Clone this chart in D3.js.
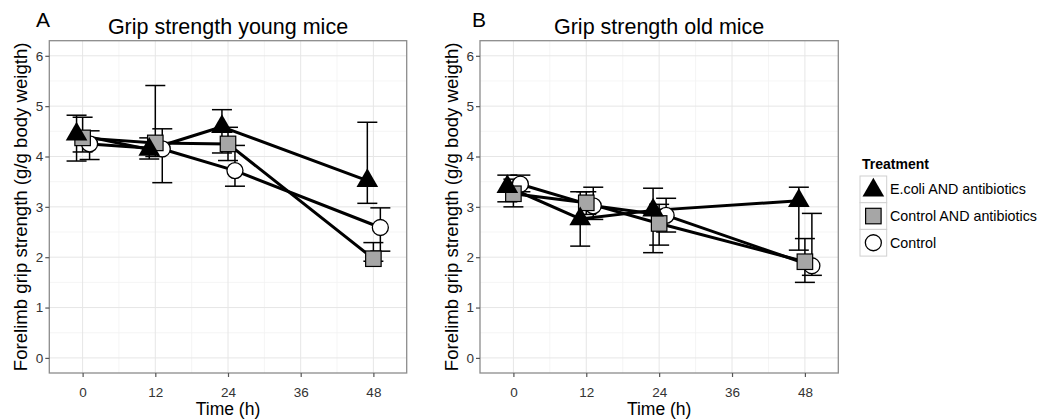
<!DOCTYPE html>
<html lang="en">
<head>
<meta charset="utf-8">
<title>Grip strength</title>
<script src="https://d3js.org/d3.v7.min.js"></script>
<style>
  body { margin: 0; background: #fff; }
  svg text { font-family: "Liberation Sans", Arial, Helvetica, sans-serif; }
</style>
</head>
<body>
<div id="chart"></div>
<script>
// sampling times (h) and treatment groups
const times = [0, 12, 24, 48];
const groups = ["E.coli AND antibiotics", "Control AND antibiotics", "Control"];
const xTicks = [0, 12, 24, 36, 48];
const yTicks = [0, 1, 2, 3, 4, 5, 6];

// young mice: mean, lower and upper error bar ends
const youngEcoli      = [4.44, 4.14, 4.59, 3.52];
const youngEcoliLo    = [3.91, 3.95, 4.07, 3.07];
const youngEcoliHi    = [4.82, 4.37, 4.93, 4.68];
const youngCtrlAb     = [4.37, 4.27, 4.25, 1.97];
const youngCtrlAbLo   = [4.09, 4.00, 3.92, 1.92];
const youngCtrlAbHi   = [4.78, 5.41, 4.58, 2.29];
const youngControl    = [4.25, 4.15, 3.72, 2.59];
const youngControlLo  = [3.94, 3.48, 3.41, 2.12];
const youngControlHi  = [4.51, 4.55, 4.22, 2.98];

// old mice
const oldEcoli      = [3.40, 2.76, 2.93, 3.12];
const oldEcoliLo    = [3.10, 2.22, 2.09, 2.14];
const oldEcoliHi    = [3.63, 3.30, 3.37, 3.39];
const oldCtrlAb     = [3.26, 3.08, 2.67, 1.91];
const oldCtrlAbLo   = [3.00, 2.85, 2.24, 1.50];
const oldCtrlAbHi   = [3.55, 3.30, 3.05, 2.37];
const oldControl    = [3.45, 3.02, 2.83, 1.83];
const oldControlLo  = [3.30, 2.75, 2.50, 1.64];
const oldControlHi  = [3.63, 3.39, 3.17, 2.87];

// dodge of the groups along time (h)
const dodge = [-1, 0, 1.15];

function build(means, los, his) {
  return groups.map((g, gi) => times.map((t, i) => ({
    group: gi, t: t + dodge[gi], y: means[gi][i], lo: los[gi][i], hi: his[gi][i]
  })));
}

const panels = [
  { tag: "A", tagX: 36, title: "Grip strength young mice", left: 49.3, right: 406.7,
    series: build([youngEcoli, youngCtrlAb, youngControl],
                  [youngEcoliLo, youngCtrlAbLo, youngControlLo],
                  [youngEcoliHi, youngCtrlAbHi, youngControlHi]) },
  { tag: "B", tagX: 472, title: "Grip strength old mice", left: 480, right: 838.3,
    series: build([oldEcoli, oldCtrlAb, oldControl],
                  [oldEcoliLo, oldCtrlAbLo, oldControlLo],
                  [oldEcoliHi, oldCtrlAbHi, oldControlHi]) }
];

const W = 1039, H = 420, plotTop = 40.7, plotBottom = 373;

const svg = d3.select("#chart").append("svg")
  .attr("width", W).attr("height", H);

// point shapes (ggplot pch 17, 22, 21)
function drawShape(g, gi, cx, cy) {
  if (gi === 0) {
    const r = 12.5;
    g.append("path")
      .attr("d", `M${cx},${cy - r}L${cx + r * Math.sqrt(3) / 2},${cy + r / 2}L${cx - r * Math.sqrt(3) / 2},${cy + r / 2}Z`)
      .attr("fill", "#000");
  } else if (gi === 1) {
    const s = 15.5;
    g.append("rect")
      .attr("x", cx - s / 2).attr("y", cy - s / 2)
      .attr("width", s).attr("height", s)
      .attr("fill", "#a6a6a6").attr("stroke", "#000").attr("stroke-width", 1.2);
  } else {
    g.append("circle")
      .attr("cx", cx).attr("cy", cy).attr("r", 8)
      .attr("fill", "#fff").attr("stroke", "#000").attr("stroke-width", 1.3);
  }
}

panels.forEach(p => {
  const x = d3.scaleLinear().domain([-5.5, 53.5]).range([p.left, p.right]);
  const y = d3.scaleLinear().domain([-0.3, 6.3]).range([plotBottom, plotTop]);
  const g = svg.append("g");

  // grid: minor then major
  const minorX = [6, 18, 30, 42];
  const minorY = d3.range(0.5, 6.5, 1);
  g.selectAll(".mx").data(minorX).join("line")
    .attr("x1", d => x(d)).attr("x2", d => x(d)).attr("y1", plotTop).attr("y2", plotBottom)
    .attr("stroke", "#f2f2f2").attr("stroke-width", 0.8);
  g.selectAll(".my").data(minorY).join("line")
    .attr("y1", d => y(d)).attr("y2", d => y(d)).attr("x1", p.left).attr("x2", p.right)
    .attr("stroke", "#f2f2f2").attr("stroke-width", 0.8);
  g.selectAll(".gx").data(xTicks).join("line")
    .attr("x1", d => x(d)).attr("x2", d => x(d)).attr("y1", plotTop).attr("y2", plotBottom)
    .attr("stroke", "#e6e6e6").attr("stroke-width", 1);
  g.selectAll(".gy").data(yTicks).join("line")
    .attr("y1", d => y(d)).attr("y2", d => y(d)).attr("x1", p.left).attr("x2", p.right)
    .attr("stroke", "#e6e6e6").attr("stroke-width", 1);

  // connecting lines
  const line = d3.line().x(d => x(d.t)).y(d => y(d.y));
  p.series.forEach(s => {
    g.append("path").attr("d", line(s))
      .attr("fill", "none").attr("stroke", "#000").attr("stroke-width", 3)
      .attr("stroke-linejoin", "round");
  });

  // error bars
  const capW = 10;
  p.series.forEach(s => {
    s.forEach(d => {
      const cx = x(d.t);
      g.append("line").attr("x1", cx).attr("x2", cx).attr("y1", y(d.lo)).attr("y2", y(d.hi))
        .attr("stroke", "#000").attr("stroke-width", 1.5);
      [d.lo, d.hi].forEach(v => {
        g.append("line").attr("x1", cx - capW).attr("x2", cx + capW).attr("y1", y(v)).attr("y2", y(v))
          .attr("stroke", "#000").attr("stroke-width", 1.5);
      });
    });
  });

  // points, control drawn first so triangles sit on top
  [2, 1, 0].forEach(gi => {
    p.series[gi].forEach(d => drawShape(g, gi, x(d.t), y(d.y)));
  });

  // panel border
  g.append("rect").attr("x", p.left).attr("y", plotTop)
    .attr("width", p.right - p.left).attr("height", plotBottom - plotTop)
    .attr("fill", "none").attr("stroke", "#8c8c8c").attr("stroke-width", 1.3);

  // axes
  const xAxis = g.append("g").attr("transform", `translate(0,${plotBottom})`)
    .call(d3.axisBottom(x).tickValues(xTicks).tickFormat(d3.format("d")).tickSize(4).tickPadding(10));
  const yAxis = g.append("g").attr("transform", `translate(${p.left},0)`)
    .call(d3.axisLeft(y).tickValues(yTicks).tickFormat(d3.format("d")).tickSize(4).tickPadding(2));
  [xAxis, yAxis].forEach(a => {
    a.attr("font-size", 13.5).attr("font-family", "'Liberation Sans', Arial, sans-serif");
    a.select(".domain").remove();
    a.selectAll(".tick line").attr("stroke", "#555").attr("stroke-width", 1.2);
    a.selectAll(".tick text").attr("fill", "#333");
  });

  const cx = (p.left + p.right) / 2;
  g.append("text").attr("x", cx).attr("y", 34).attr("text-anchor", "middle")
    .style("font-size", "21.5px").text(p.title);
  g.append("text").attr("x", p.tagX).attr("y", 27)
    .style("font-size", "21px").text(p.tag);
  g.append("text").attr("x", cx).attr("y", 415).attr("text-anchor", "middle")
    .style("font-size", "17.5px").text("Time (h)");
  g.append("text")
    .attr("transform", `translate(${p.left - 22},${(plotTop + plotBottom) / 2}) rotate(-90)`)
    .attr("text-anchor", "middle")
    .style("font-size", "18.6px").text("Forelimb grip strength (g/g body weigth)");
});

// legend
const leg = svg.append("g").attr("transform", "translate(860,0)");
leg.append("text").attr("x", 2).attr("y", 169)
  .style("font-size", "14px").style("font-weight", "bold").text("Treatment");
const keyS = 26.7, keyTop = 176;
groups.forEach((name, gi) => {
  const ky = keyTop + gi * keyS;
  leg.append("rect").attr("x", 0).attr("y", ky).attr("width", keyS).attr("height", keyS)
    .attr("fill", "#fff").attr("stroke", "#d0d0d0").attr("stroke-width", 1);
  drawShape(leg, gi, keyS / 2, ky + keyS / 2 + (gi === 0 ? 1 : 0));
  leg.append("text").attr("x", 30).attr("y", ky + keyS / 2).attr("dy", "0.35em")
    .style("font-size", "14.3px").text(name);
});
</script>
</body>
</html>
